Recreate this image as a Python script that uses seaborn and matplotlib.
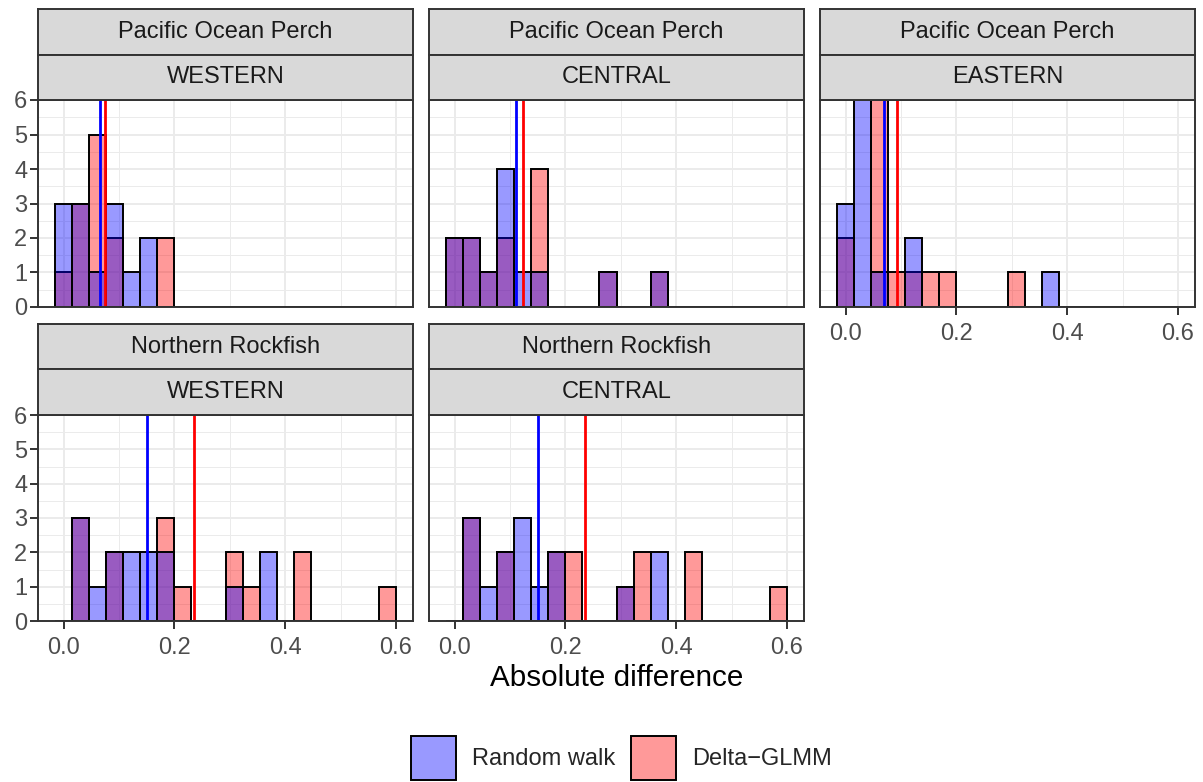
import numpy as np
import matplotlib
matplotlib.use("Agg")
import matplotlib.pyplot as plt
from matplotlib.patches import Patch
from matplotlib.ticker import MultipleLocator, FormatStrFormatter
import seaborn as sns

W, H, DPI = 1203, 782, 100

# Histogram bins: 20 equal bins, the first one centred on zero
N_BINS = 20
BIN_WIDTH = 0.6 / 19.5
bin_centers = np.arange(N_BINS) * BIN_WIDTH
bin_edges = [float(e) for e in (np.arange(N_BINS + 1) - 0.5) * BIN_WIDTH]

species = ["Pacific Ocean Perch", "Pacific Ocean Perch", "Pacific Ocean Perch",
           "Northern Rockfish", "Northern Rockfish"]
regions = ["WESTERN", "CENTRAL", "EASTERN", "WESTERN", "CENTRAL"]

# Counts per bin for each species/region panel
rw_counts = [
    [3, 3, 1, 3, 1, 2, 0, 0, 0, 0, 0, 0, 0, 0, 0, 0, 0, 0, 0, 0],
    [2, 2, 1, 4, 1, 1, 0, 0, 0, 1, 0, 0, 1, 0, 0, 0, 0, 0, 0, 0],
    [3, 6, 1, 0, 2, 0, 0, 0, 0, 0, 0, 0, 1, 0, 0, 0, 0, 0, 0, 0],
    [0, 3, 1, 2, 2, 2, 2, 0, 0, 0, 1, 0, 2, 0, 0, 0, 0, 0, 0, 0],
    [0, 3, 1, 2, 3, 1, 2, 0, 0, 0, 1, 0, 2, 0, 0, 0, 0, 0, 0, 0],
]
glmm_counts = [
    [1, 3, 5, 2, 0, 0, 2, 0, 0, 0, 0, 0, 0, 0, 0, 0, 0, 0, 0, 0],
    [2, 2, 1, 2, 0, 4, 0, 0, 0, 1, 0, 0, 1, 0, 0, 0, 0, 0, 0, 0],
    [2, 0, 6, 1, 1, 1, 1, 0, 0, 0, 1, 0, 0, 0, 0, 0, 0, 0, 0, 0],
    [0, 3, 0, 2, 0, 0, 3, 1, 0, 0, 2, 1, 0, 0, 2, 0, 0, 0, 0, 1],
    [0, 3, 0, 2, 0, 0, 2, 2, 0, 0, 1, 2, 0, 0, 2, 0, 0, 0, 0, 1],
]

# Mean absolute difference per panel
rw_mean = [0.066, 0.110, 0.070, 0.150, 0.150]
glmm_mean = [0.075, 0.123, 0.093, 0.236, 0.236]

series_labels = ["Random walk", "Delta\u2212GLMM"]
series_colors = ["blue", "red"]

sns.set_style("white")
plt.rcParams["font.family"] = ["Liberation Sans", "DejaVu Sans"]

fig = plt.figure(figsize=(W / DPI, H / DPI), dpi=DPI)


def box(x, y, w, h):
    return [x / W, 1 - (y + h) / H, w / W, h / H]


col_x = [38, 429, 820]
panel_w = 375
row_top = [100, 415]
panel_h = [207, 206]
strip_h = 45.5
layout = [(0, 0), (0, 1), (0, 2), (1, 0), (1, 1)]
show_x = [False, False, True, True, True]

BORDER = "#333333"
LW = 1.4

for i, (r, c) in enumerate(layout):
    ax = fig.add_axes(box(col_x[c], row_top[r], panel_w, panel_h[r]))
    ax.set_axisbelow(True)
    sns.histplot(x=bin_centers, weights=np.asarray(glmm_counts[i], float), bins=bin_edges,
                 ax=ax, color=series_colors[1], alpha=0.4, edgecolor="black", linewidth=LW)
    sns.histplot(x=bin_centers, weights=np.asarray(rw_counts[i], float), bins=bin_edges,
                 ax=ax, color=series_colors[0], alpha=0.4, edgecolor="black", linewidth=LW)
    ax.axvline(rw_mean[i], color="blue", lw=2.0)
    ax.axvline(glmm_mean[i], color="red", lw=2.0)

    ax.set_xlim(-0.0462, 0.6308)
    ax.set_ylim(0, 6)
    ax.set_xlabel("")
    ax.set_ylabel("")
    ax.xaxis.set_major_locator(MultipleLocator(0.2))
    ax.xaxis.set_minor_locator(MultipleLocator(0.1))
    ax.xaxis.set_major_formatter(FormatStrFormatter("%.1f"))
    ax.yaxis.set_major_locator(MultipleLocator(1))
    ax.yaxis.set_minor_locator(MultipleLocator(0.5))
    ax.grid(which="major", color="#EBEBEB", lw=1.4)
    ax.grid(which="minor", color="#EBEBEB", lw=0.7)
    for s in ax.spines.values():
        s.set_color(BORDER)
        s.set_linewidth(LW)
        s.set_visible(True)
    ax.tick_params(which="minor", length=0)
    ax.tick_params(which="major", length=5.8, width=1.4, color=BORDER,
                   labelcolor="#4D4D4D", labelsize=17)
    ax.tick_params(axis="x", pad=5.5, bottom=show_x[i], labelbottom=show_x[i])
    ax.tick_params(axis="y", pad=2, left=(c == 0), labelleft=(c == 0))

    # facet strips: species on top, region below
    for k, label in enumerate([species[i], regions[i]]):
        sax = fig.add_axes(box(col_x[c], row_top[r] - 2 * strip_h + k * strip_h,
                               panel_w, strip_h))
        sax.set_facecolor("#D9D9D9")
        sax.set_xticks([])
        sax.set_yticks([])
        for s in sax.spines.values():
            s.set_color(BORDER)
            s.set_linewidth(LW)
            s.set_visible(True)
        sax.text(0.5, 0.5, label, ha="center", va="center", fontsize=17,
                 color="#1A1A1A", transform=sax.transAxes)

fig.text(616.5 / W, 1 - 678 / H, "Absolute difference", ha="center",
         va="center", fontsize=21.3, color="black")

handles = [Patch(facecolor=matplotlib.colors.to_rgba(col, 0.4), edgecolor="black",
                 linewidth=1.4, label=lab)
           for col, lab in zip(series_colors, series_labels)]
fig.legend(handles=handles, loc="center", bbox_to_anchor=(621.5 / W, 1 - 758 / H),
           ncol=2, frameon=False, fontsize=17, handlelength=1.9, handleheight=2.49,
           handletextpad=0.68, columnspacing=0.68, borderaxespad=0, borderpad=0)

fig.savefig("out.png", dpi=DPI)
